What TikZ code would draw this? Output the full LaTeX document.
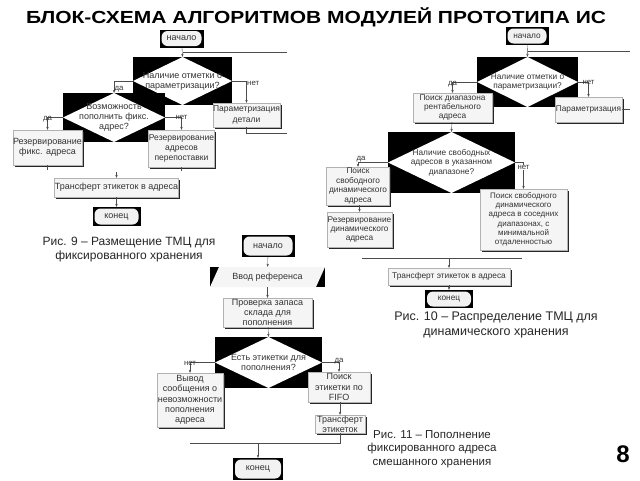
\documentclass[tikz,border=0pt]{standalone}
\usepackage{fontspec}
\setmainfont{Liberation Sans}
\usetikzlibrary{shadows,arrows.meta,calc}
\begin{document}
\begin{tikzpicture}[x=1pt,y=-1pt,
  txt/.style={font=\fontsize{9}{10.3}\selectfont, text=black!80, align=center, inner sep=0.3pt},
  sm/.style={font=\fontsize{8.3}{9.4}\selectfont},
  tight/.style={font=\fontsize{8.5}{10.3}\selectfont},
  box/.style={txt, draw=gray!60, line width=0.3pt, fill=gray!8,
    drop shadow={shadow xshift=1.8pt, shadow yshift=-1.8pt, fill=black!85, opacity=1}},
  dec/.style={txt, fill=black,
    path picture={\fill[white] (path picture bounding box.west) -- (path picture bounding box.north)
      -- (path picture bounding box.east) -- (path picture bounding box.south) -- cycle;}},
  term/.style={txt, fill=black,
    path picture={\fill[gray!10, rounded corners=6pt]
      ([shift={(2pt,1.5pt)}]path picture bounding box.south west) rectangle
      ([shift={(-2pt,-1.5pt)}]path picture bounding box.north east);}},
  iobox/.style={txt, fill=black,
    path picture={\fill[gray!8] (path picture bounding box.south west)
      -- ([xshift=9pt]path picture bounding box.north west) -- (path picture bounding box.north east)
      -- ([xshift=-9pt]path picture bounding box.south east) -- cycle;}},
  arr/.style={draw=black!70, line width=0.4pt, -{Stealth[length=3pt,width=2.4pt]}},
  ln/.style={draw=black!70, line width=0.4pt},
  lab/.style={font=\fontsize{7.8}{8}\selectfont, text=black!80, inner sep=0.5pt},
  capt/.style={font=\fontsize{12}{14}\selectfont, text=black!85, align=center},
  sz/.style 2 args={minimum width=#1pt, minimum height=#2pt}
]
\useasboundingbox (0,0) rectangle (640,480);
\fill[white] (0,0) rectangle (640,480);

% title
\node[font=\bfseries\fontsize{17.5}{20}\selectfont, text=black] (title) at (316,17.5)
  {\scalebox{1.2}[1]{БЛОК-СХЕМА АЛГОРИТМОВ МОДУЛЕЙ ПРОТОТИПА ИС}};

% ---------------- Fig 9 ----------------
\node[term, sz={44}{18}] (s9) at (181.5,38.5) {начало};
\node[dec, sz={99}{48}] (d9a) at (182.5,81) {Наличие отметки о\\параметризации?};
\node[dec, sz={102}{49}] (d9b) at (114,117.5) {Возможность\\пополнить фикс.\\адрес?};
\node[box, tight, sz={64}{24}] (p9) at (246.5,115) {Параметризация\\детали};
\node[box, sz={69}{35}] (r9a) at (47.5,147.5) {Резервирование\\фикс. адреса};
\node[box, tight, sz={64}{37}] (r9b) at (181.5,148.5) {Резервирование\\адресов\\перепоставки};
\node[box, sz={117}{19}] (t9) at (116.5,187.5) {Трансферт этикеток в адреса};
\node[term, sz={48}{19}] (e9) at (116.5,216.5) {конец};

\coordinate (l9a) at (287,52);
\coordinate (l9b) at (287,133);
\coordinate (m9) at (116.5,172);
\draw[arr] (s9) -- (d9a.north);
\draw[ln] (l9a) -- (d9a.north |- l9a);
\draw[arr] (d9a.west) -| (d9b.north) node[lab, pos=0.7, below right] {да};
\draw[arr] (d9a.east) -| (p9.north) node[lab, pos=0.55, right] {нет};
\draw[ln] (p9.south) |- (l9b);
\draw[arr] (d9b.west) -| (r9a.north) node[lab, pos=0.7, above] {да};
\draw[arr] (d9b.east) -| (r9b.north) node[lab, pos=0.6, above] {нет};
\draw[ln] (r9a.south) -- ++(0,5);
\draw[ln] (r9b.south) -- ++(0,4);
\draw[arr] (m9) -- (t9.north);
\draw[arr] (t9) -- (e9);

\node[capt] (c9) at (129,250) {Рис. 9 – Размещение ТМЦ для\\фиксированного хранения};

% ---------------- Fig 10 ----------------
\node[term, sm, sz={43}{18}] (s10) at (527,36) {начало};
\node[dec, sm, sz={101}{50}] (d10a) at (527.5,82) {Наличие отметки о\\параметризации?};
\node[box, sm, sz={79}{29}] (pd10) at (452.5,107.5) {Поиск диапазона\\рентабельного\\адреса};
\node[box, sm, sz={67}{25}] (p10) at (588.5,109.5) {Параметризация};
\node[dec, sm, sz={127}{61}] (d10b) at (451.5,162.5) {Наличие свободных\\адресов в указанном\\диапазоне?};
\node[box, sm, sz={63}{38}] (ps10) at (358,186) {Поиск\\свободного\\динамического\\адреса};
\node[box, sm, sz={65}{35}] (rd10) at (359.5,229.5) {Резервирование\\динамического\\адреса};
\node[box, sm, font=\fontsize{8}{9.3}\selectfont, sz={87}{61}] (nb10) at (523.5,219.5) {Поиск свободного\\динамического\\адреса в соседних\\диапазонах, с\\минимальной\\отдаленностью};
\node[box, sm, sz={122}{17}] (t10) at (449,276.5) {Трансферт этикеток в адреса};
\node[term, sm, sz={48}{18}] (e10) at (449,299) {конец};

\coordinate (l10a) at (630,51);
\coordinate (j10a) at (362,258);
\coordinate (j10b) at (522,258);
\coordinate (j10c) at (449,258);
\draw[arr] (s10) -- (d10a.north);
\draw[ln] (l10a) -- (d10a.north |- l10a);
\draw[arr] (d10a.west) -| (pd10.north) node[lab, pos=0.75, above] {да};
\draw[arr] (d10a.east) -| (p10.north) node[lab, pos=0.6, above] {нет};
\draw[ln] (p10.east) -- ++(8,0);
\draw[arr] (pd10) -- (d10b.north);
\draw[arr] (d10b.west) -| (ps10.north) node[lab, pos=0.45, above] {да};
\draw[arr] (d10b.east) -| (nb10.north) node[lab, pos=0.6, fill=white] {нет};
\draw[arr] (ps10.south -| rd10.north) -- (rd10.north);
\draw[ln] (j10a) -- (j10b);
\draw[arr] (j10c) -- (t10.north);
\draw[arr] (t10) -- (e10);

\node[capt, font=\fontsize{12.5}{15}\selectfont] (c10) at (496,324.5) {Рис. 10 – Распределение ТМЦ для\\динамического хранения};

% ---------------- Fig 11 ----------------
\node[term, sz={53}{22}] (s11) at (268,246) {начало};
\node[iobox, sz={115}{20}] (i11) at (267.5,277) {Ввод референса};
\node[box, sz={89}{29}] (k11) at (267.5,312.5) {Проверка запаса\\склада для\\пополнения};
\node[dec, sz={107}{51}] (d11) at (268.5,362.5) {Есть этикетки для\\пополнения?};
\node[box, sz={66}{54}] (v11) at (190,400) {Вывод\\сообщения о\\невозможности\\пополнения\\адреса};
\node[box, sz={62}{30}] (f11) at (339,387) {Поиск\\этикетки по\\FIFO};
\node[box, sz={50}{18}] (t11) at (340,424) {Трансферт\\этикеток};
\node[term, sz={50}{22}] (e11) at (258,469) {конец};

\coordinate (j11a) at (190,443);
\coordinate (j11b) at (258,443);
\draw[arr] (s11) -- (i11);
\draw[arr] (i11) -- (k11);
\draw[arr] (k11) -- (d11.north);
\draw[arr] (d11.west) -| (v11.north) node[lab, pos=0.7, above] {нет};
\draw[arr] (d11.east) -| (f11.north) node[lab, pos=0.6, above] {да};
\draw[arr] (f11.south -| t11.north) -- (t11.north);
\draw[ln] (t11.south) |- (j11a);
\draw[arr] (j11b) -- (e11.north);

\node[capt, font=\fontsize{11.5}{13.5}\selectfont] (c11) at (432,449) {Рис. 11 – Пополнение\\фиксированного адреса\\смешанного хранения};

\node[font=\bfseries\fontsize{24}{26}\selectfont] (pg) at (623,454) {8};
\end{tikzpicture}
\end{document}
